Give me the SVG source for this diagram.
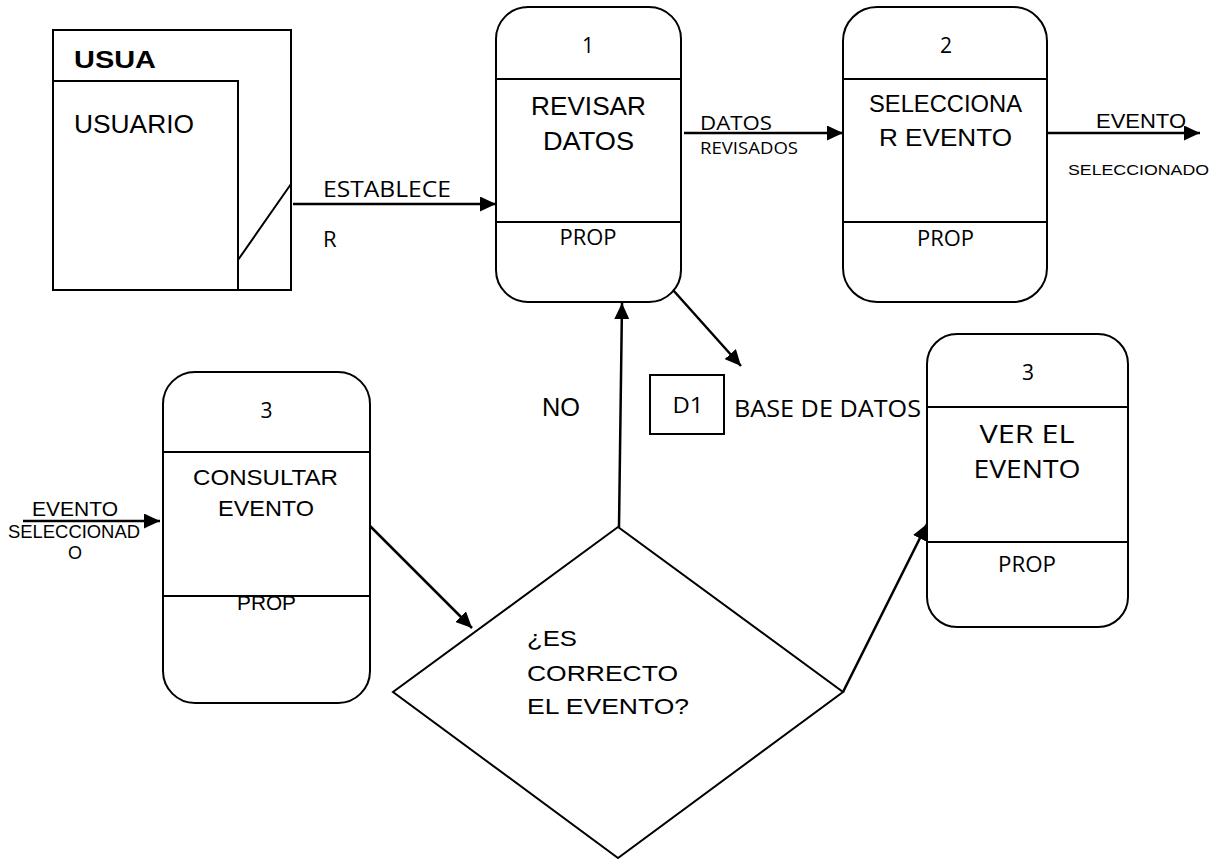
<svg xmlns="http://www.w3.org/2000/svg" width="1224" height="859" viewBox="0 0 1224 859">
<style>
.box{fill:#fff;stroke:#000;stroke-width:2}
.ln{fill:none;stroke:#000;stroke-width:2}
.cn{fill:none;stroke:#000;stroke-width:2.5;marker-end:url(#ah)}
.a{font-family:"Liberation Sans",Arial,sans-serif;fill:#000}
.c{font-family:"Open Sans","Liberation Sans",sans-serif;fill:#000}
.m{text-anchor:middle}
</style>
<defs>
<marker id="ah" markerUnits="userSpaceOnUse" markerWidth="17" markerHeight="15" refX="16" refY="7.5" orient="auto">
<path d="M0,0 L16,7.5 L0,15 z" fill="#000"/>
</marker>
</defs>
<rect width="1224" height="859" fill="#fff"/>

<g id="usuario">
<rect class="box" x="53" y="30" width="238" height="260"/>
<path class="ln" d="M53,81 H238 V290 M238,260 L291,184"/>
<text class="a" x="74" y="68" font-size="23" font-weight="bold" textLength="82" lengthAdjust="spacingAndGlyphs">USUA</text>
<text class="a" x="74" y="133" font-size="25" textLength="120" lengthAdjust="spacingAndGlyphs">USUARIO</text>
</g>

<g id="proc1">
<rect class="box" x="496" y="7" width="185" height="295" rx="32"/>
<path class="ln" d="M496,79 H681 M496,222 H681"/>
<text class="c m" x="588" y="53" font-size="21">1</text>
<text class="a m" x="588.5" y="115" font-size="25" textLength="115" lengthAdjust="spacingAndGlyphs">REVISAR</text>
<text class="a m" x="588.5" y="150" font-size="25" textLength="91" lengthAdjust="spacingAndGlyphs">DATOS</text>
<text class="c m" x="588" y="245" font-size="21" textLength="57" lengthAdjust="spacingAndGlyphs">PROP</text>
</g>

<g id="proc2">
<rect class="box" x="843" y="7" width="204" height="295" rx="34"/>
<path class="ln" d="M843,79 H1047 M843,222 H1047"/>
<text class="c m" x="946" y="53" font-size="21">2</text>
<text class="a m" x="945.5" y="112" font-size="23.5" textLength="153" lengthAdjust="spacingAndGlyphs">SELECCIONA</text>
<text class="a m" x="945.5" y="146" font-size="23.5" textLength="133" lengthAdjust="spacingAndGlyphs">R EVENTO</text>
<text class="c m" x="945.5" y="246" font-size="21" textLength="57" lengthAdjust="spacingAndGlyphs">PROP</text>
</g>

<g id="proc3a">
<rect class="box" x="163" y="372" width="207" height="331" rx="32"/>
<path class="ln" d="M163,452 H370"/>
<text class="c m" x="266.5" y="418" font-size="21">3</text>
<text class="a m" x="265.5" y="485" font-size="22" textLength="145" lengthAdjust="spacingAndGlyphs">CONSULTAR</text>
<text class="a m" x="266" y="516" font-size="22" textLength="96" lengthAdjust="spacingAndGlyphs">EVENTO</text>
<text class="a m" x="266.5" y="610" font-size="21" textLength="59" lengthAdjust="spacingAndGlyphs">PROP</text>
<path class="ln" d="M163,596 H370"/>
</g>

<g id="proc3b">
<rect class="box" x="927" y="334" width="201" height="293" rx="30"/>
<path class="ln" d="M927,407 H1128 M927,542 H1128"/>
<text class="c m" x="1028" y="380" font-size="21">3</text>
<text class="c m" x="1027" y="443" font-size="25" textLength="95" lengthAdjust="spacingAndGlyphs">VER EL</text>
<text class="c m" x="1027" y="478" font-size="25" textLength="107" lengthAdjust="spacingAndGlyphs">EVENTO</text>
<text class="c m" x="1027" y="572" font-size="21" textLength="58" lengthAdjust="spacingAndGlyphs">PROP</text>
</g>

<g id="decision">
<polygon class="box" points="618,527 393,692 618,858 843,692"/>
<text class="a" x="527" y="646" font-size="22" textLength="50" lengthAdjust="spacingAndGlyphs">¿ES</text>
<text class="a" x="527" y="681" font-size="22" textLength="151" lengthAdjust="spacingAndGlyphs">CORRECTO</text>
<text class="a" x="527" y="714" font-size="22" textLength="162" lengthAdjust="spacingAndGlyphs">EL EVENTO?</text>
</g>

<g id="d1">
<rect class="box" x="650" y="375" width="74" height="59"/>
<text class="c m" x="688" y="413" font-size="21" textLength="31" lengthAdjust="spacingAndGlyphs">D1</text>
<text class="c" x="734" y="417" font-size="23" textLength="187" lengthAdjust="spacingAndGlyphs">BASE DE DATOS</text>
</g>

<g id="connectors">
<line class="cn" x1="293" y1="204" x2="496" y2="204"/>
<line class="cn" x1="684" y1="133" x2="843" y2="133"/>
<line class="cn" x1="1048" y1="133" x2="1200" y2="133"/>
<line class="cn" x1="23" y1="521" x2="160" y2="521"/>
<line class="cn" x1="370" y1="526" x2="472" y2="628"/>
<line class="cn" x1="619" y1="527" x2="622" y2="303"/>
<line class="cn" x1="673" y1="290" x2="741" y2="366"/>
<line class="cn" x1="843" y1="692" x2="927" y2="524"/>
<text class="c" x="323" y="197" font-size="22" textLength="128" lengthAdjust="spacingAndGlyphs">ESTABLECE</text>
<text class="c" x="323" y="247" font-size="22">R</text>
<text class="c" x="700" y="130" font-size="19.5" textLength="72" lengthAdjust="spacingAndGlyphs">DATOS</text>
<text class="c" x="700" y="154" font-size="17" textLength="98" lengthAdjust="spacingAndGlyphs">REVISADOS</text>
<text class="a" x="1096" y="128" font-size="20" textLength="90" lengthAdjust="spacingAndGlyphs">EVENTO</text>
<text class="a" x="1068" y="175" font-size="15.5" textLength="141" lengthAdjust="spacingAndGlyphs">SELECCIONADO</text>
<text class="a" x="32" y="516" font-size="20" textLength="86" lengthAdjust="spacingAndGlyphs">EVENTO</text>
<text class="a" x="8" y="538" font-size="18" textLength="132" lengthAdjust="spacingAndGlyphs">SELECCIONAD</text>
<text class="a m" x="75" y="559" font-size="18">O</text>
<text class="a" x="542" y="416" font-size="25" textLength="38" lengthAdjust="spacingAndGlyphs">NO</text>
</g>
</svg>
